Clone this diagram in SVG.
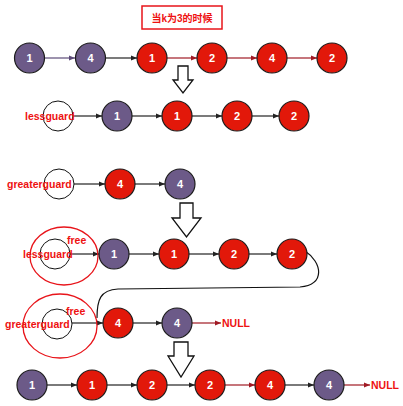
<svg xmlns="http://www.w3.org/2000/svg" width="403" height="406" viewBox="0 0 403 406">
<defs>
<style>
.p{fill:#6c5a88;stroke:#1c1c1c;stroke-width:1.2}
.r{fill:#e2180a;stroke:#1c1c1c;stroke-width:1.2}
.g{fill:#fff;stroke:#111;stroke-width:1}
.n{font-family:"Liberation Sans",Arial,sans-serif;font-weight:bold;font-size:11px;fill:#fff;text-anchor:middle}
.t{font-family:"Liberation Sans",Arial,sans-serif;font-weight:bold;font-size:10.5px;fill:#ee1111}
.k{stroke:#222;stroke-width:1.2;fill:none;marker-end:url(#mk)}
.kr{stroke:#a01a24;stroke-width:1.2;fill:none;marker-end:url(#mr)}
.kp{stroke:#5c4a78;stroke-width:1.2;fill:none;marker-end:url(#mp)}
.ho{fill:#fff;stroke:#111;stroke-width:1.3}
.big{fill:none;stroke:#e8141a;stroke-width:1.3}
</style>
<marker id="mk" viewBox="0 0 10 10" refX="10" refY="5" markerWidth="6" markerHeight="6" orient="auto" markerUnits="userSpaceOnUse"><path d="M0,1 L10,5 L0,9 Z" fill="#222"/></marker>
<marker id="mr" viewBox="0 0 10 10" refX="10" refY="5" markerWidth="6" markerHeight="6" orient="auto" markerUnits="userSpaceOnUse"><path d="M0,1 L10,5 L0,9 Z" fill="#a01a24"/></marker>
<marker id="mp" viewBox="0 0 10 10" refX="10" refY="5" markerWidth="6" markerHeight="6" orient="auto" markerUnits="userSpaceOnUse"><path d="M0,1 L10,5 L0,9 Z" fill="#5c4a78"/></marker>
</defs>
<rect width="403" height="406" fill="#fff"/>

<g id="title">
<rect x="142" y="6" width="80" height="23" fill="#fff" stroke="#e8141a" stroke-width="1.5"/>
<text x="182" y="22" font-family="'Liberation Sans','Noto Sans CJK SC',sans-serif" font-weight="bold" font-size="10" fill="#ee1111" text-anchor="middle">当k为3的时候</text>
</g>

<g id="bigarrows">
<path class="ho" d="M178,66 H188 V80 H193 L183,93 L173,80 H178 Z"/>
<path class="ho" d="M180,203 H193 V218 H201 L186.5,237 L172,218 H180 Z"/>
<path class="ho" d="M174,342 H188 V356 H194 L181,377 L168,356 H174 Z"/>
</g>

<g id="connectors">
<line class="kp" x1="44" y1="58" x2="75" y2="58"/>
<line class="k" x1="105" y1="58" x2="137" y2="58" stroke-width="1.6"/>
<line class="kr" x1="167" y1="58" x2="197" y2="58"/>
<line class="kr" x1="227" y1="58" x2="257" y2="58"/>
<line class="kr" x1="287" y1="58" x2="317" y2="58"/>

<line class="k" x1="72" y1="116" x2="102" y2="116"/>
<line class="k" x1="132" y1="116" x2="162" y2="116"/>
<line class="k" x1="192" y1="116" x2="222" y2="116"/>
<line class="k" x1="252" y1="116" x2="279" y2="116"/>

<line class="k" x1="73" y1="184" x2="105" y2="184"/>
<line class="k" x1="135" y1="184" x2="165" y2="184"/>

<line class="k" x1="70" y1="254" x2="99" y2="254"/>
<line class="k" x1="129" y1="254" x2="159" y2="254"/>
<line class="k" x1="189" y1="254" x2="219" y2="254"/>
<line class="k" x1="249" y1="254" x2="277" y2="254"/>

<path d="M305,251 C322,262 326,285 300,287 L118,289 C100,290 97,300 97,318" fill="none" stroke="#111" stroke-width="1.2"/>

<line class="k" x1="72" y1="323" x2="103" y2="323" stroke="#444"/>
<line class="k" x1="133" y1="323" x2="162" y2="323"/>
<line class="kr" x1="192" y1="323" x2="221" y2="323"/>

<line class="k" x1="47" y1="385" x2="77" y2="385"/>
<line class="k" x1="107" y1="385" x2="137" y2="385"/>
<line class="k" x1="167" y1="385" x2="195" y2="385" stroke="#444"/>
<line class="kr" x1="225" y1="385" x2="255" y2="385"/>
<line class="k" x1="285" y1="385" x2="314" y2="385"/>
<line class="kr" x1="344" y1="385" x2="370" y2="385"/>
</g>

<g id="row1">
<g id="r1n1"><circle class="p" cx="29.5" cy="58" r="15"/><text class="n" x="29.5" y="62">1</text></g>
<g id="r1n2"><circle class="p" cx="90.5" cy="58" r="15"/><text class="n" x="90.5" y="62">4</text></g>
<g id="r1n3"><circle class="r" cx="152" cy="58" r="15"/><text class="n" x="152" y="62">1</text></g>
<g id="r1n4"><circle class="r" cx="212" cy="58" r="15"/><text class="n" x="212" y="62">2</text></g>
<g id="r1n5"><circle class="r" cx="272" cy="58" r="15"/><text class="n" x="272" y="62">4</text></g>
<g id="r1n6"><circle class="r" cx="332" cy="58" r="15"/><text class="n" x="332" y="62">2</text></g>
</g>

<g id="row2">
<g id="r2g"><circle class="g" cx="58" cy="116" r="15"/><text class="t" x="25" y="120">lessguard</text></g>
<g id="r2n1"><circle class="p" cx="117" cy="116" r="15"/><text class="n" x="117" y="120">1</text></g>
<g id="r2n2"><circle class="r" cx="177" cy="116" r="15"/><text class="n" x="177" y="120">1</text></g>
<g id="r2n3"><circle class="r" cx="237" cy="116" r="15"/><text class="n" x="237" y="120">2</text></g>
<g id="r2n4"><circle class="r" cx="294" cy="116" r="15"/><text class="n" x="294" y="120">2</text></g>
</g>

<g id="row3">
<g id="r3g"><circle class="g" cx="59" cy="184" r="15"/><text class="t" x="7" y="188">greaterguard</text></g>
<g id="r3n1"><circle class="r" cx="120" cy="184" r="15"/><text class="n" x="120" y="188">4</text></g>
<g id="r3n2"><circle class="p" cx="180" cy="184" r="15"/><text class="n" x="180" y="188">4</text></g>
</g>

<g id="row4">
<g id="r4g"><ellipse class="big" cx="64" cy="256" rx="34" ry="29"/><circle class="g" cx="55" cy="254" r="15"/><text class="t" x="67" y="244">free</text><text class="t" x="23" y="258">lessguard</text></g>
<g id="r4n1"><circle class="p" cx="114" cy="254" r="15"/><text class="n" x="114" y="258">1</text></g>
<g id="r4n2"><circle class="r" cx="174" cy="254" r="15"/><text class="n" x="174" y="258">1</text></g>
<g id="r4n3"><circle class="r" cx="234" cy="254" r="15"/><text class="n" x="234" y="258">2</text></g>
<g id="r4n4"><circle class="r" cx="292" cy="254" r="15"/><text class="n" x="292" y="258">2</text></g>
</g>

<g id="row5">
<g id="r5g"><ellipse class="big" cx="60" cy="326" rx="37" ry="32"/><circle class="g" cx="57" cy="324" r="15"/><text class="t" x="66" y="315">free</text><text class="t" x="5" y="328">greaterguard</text></g>
<g id="r5n1"><circle class="r" cx="118" cy="323" r="15"/><text class="n" x="118" y="327">4</text></g>
<g id="r5n2"><circle class="p" cx="177" cy="323" r="15"/><text class="n" x="177" y="327">4</text></g>
<text class="t" x="222" y="327" font-size="10.5">NULL</text>
</g>

<g id="row6">
<g id="r6n1"><circle class="p" cx="32" cy="385" r="15"/><text class="n" x="32" y="389">1</text></g>
<g id="r6n2"><circle class="r" cx="92" cy="385" r="15"/><text class="n" x="92" y="389">1</text></g>
<g id="r6n3"><circle class="r" cx="152" cy="385" r="15"/><text class="n" x="152" y="389">2</text></g>
<g id="r6n4"><circle class="r" cx="210" cy="385" r="15"/><text class="n" x="210" y="389">2</text></g>
<g id="r6n5"><circle class="r" cx="270" cy="385" r="15"/><text class="n" x="270" y="389">4</text></g>
<g id="r6n6"><circle class="p" cx="329" cy="385" r="15"/><text class="n" x="329" y="389">4</text></g>
<text class="t" x="371" y="389">NULL</text>
</g>
</svg>
